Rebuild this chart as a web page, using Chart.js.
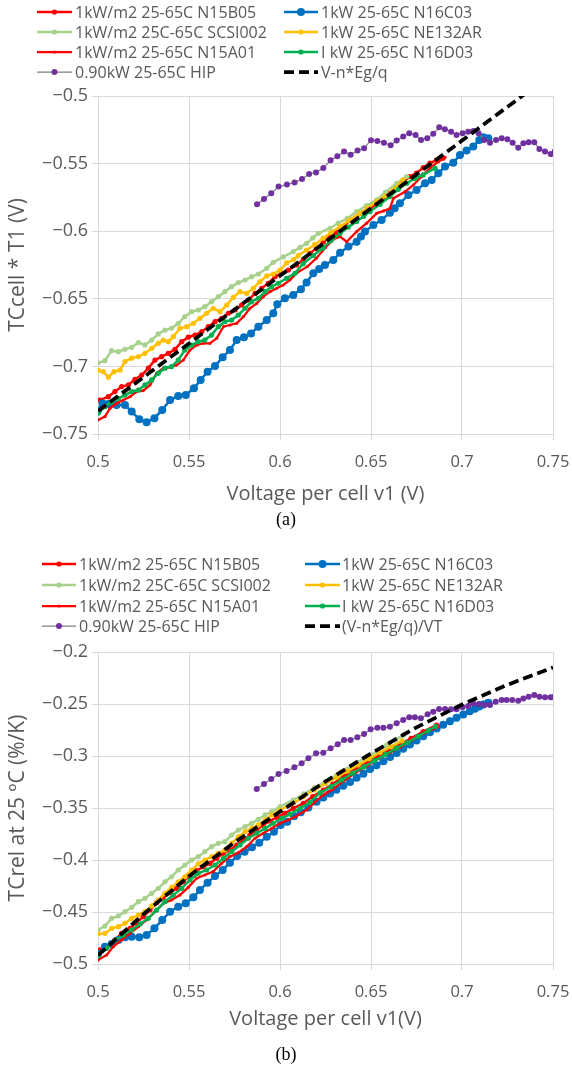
<!DOCTYPE html>
<html>
<head>
<meta charset="utf-8">
<script src="https://cdn.jsdelivr.net/npm/chart.js@4.4.1/dist/chart.umd.min.js"></script>
<style>
  body { margin: 0; background: #fff; width: 572px; height: 1077px; position: relative; overflow: hidden; }
  canvas { position: absolute; left: 0; }
  #chartA { top: 0; }
  #chartB { top: 540px; }
  .cap { position: absolute; left: 0; width: 572px; text-align: center; font: 18px "Liberation Serif", serif; color: #000; }
</style>
</head>
<body>
<canvas id="chartA" width="572" height="512"></canvas>
<div class="cap" style="top:509px">(a)</div>
<canvas id="chartB" width="572" height="497"></canvas>
<div class="cap" style="top:1044px">(b)</div>
<script>
// series names, in legend order (two columns, filled row by row)
var namesA = ["1kW/m2 25-65C N15B05", "1kW 25-65C N16C03", "1kW/m2 25C-65C SCSI002", "1kW 25-65C NE132AR",
              "1kW/m2 25-65C N15A01", "I kW 25-65C N16D03", "0.90kW 25-65C HIP", "V-n*Eg/q"];
var namesB = ["1kW/m2 25-65C N15B05", "1kW 25-65C N16C03", "1kW/m2 25C-65C SCSI002", "1kW 25-65C NE132AR",
              "1kW/m2 25-65C N15A01", "I kW 25-65C N16D03", "0.90kW 25-65C HIP", "(V-n*Eg/q)/VT"];

// ---- (a) TCcell * T1 (V) vs v1 ----
var a_N15B05 = [[0.501,-0.725],[0.5057,-0.7224],[0.5093,-0.7186],[0.513,-0.7149],[0.5167,-0.7137],[0.5203,-0.7095],[0.524,-0.7064],[0.5277,-0.7013],[0.5313,-0.6953],[0.535,-0.6928],[0.5386,-0.6903],[0.5423,-0.6873],[0.546,-0.6817],[0.5496,-0.6784],[0.5533,-0.6768],[0.557,-0.6743],[0.5606,-0.6706],[0.5643,-0.6669],[0.5679,-0.6644],[0.5716,-0.6607],[0.5753,-0.6583],[0.5789,-0.6546],[0.5826,-0.6509],[0.5863,-0.646],[0.5899,-0.6422],[0.5936,-0.6385],[0.5973,-0.6336],[0.6009,-0.6311],[0.6046,-0.6287],[0.6091,-0.625],[0.6128,-0.621],[0.6165,-0.6164],[0.62,-0.6125],[0.6238,-0.608],[0.6275,-0.604],[0.631,-0.601],[0.635,-0.597],[0.6385,-0.5917],[0.642,-0.5895],[0.6458,-0.586],[0.6495,-0.5831],[0.653,-0.58],[0.6568,-0.576],[0.6604,-0.572],[0.664,-0.568],[0.6677,-0.5635],[0.6714,-0.5596],[0.675,-0.557],[0.6787,-0.553],[0.6824,-0.5497],[0.686,-0.5475],[0.6896,-0.546]];
var a_N16C03 = [[0.5,-0.7327],[0.5025,-0.7275],[0.5057,-0.7278],[0.5102,-0.7285],[0.5148,-0.7285],[0.5185,-0.7334],[0.5227,-0.739],[0.5267,-0.7413],[0.531,-0.7383],[0.5353,-0.7322],[0.5396,-0.7249],[0.5441,-0.7219],[0.5482,-0.7212],[0.5527,-0.7162],[0.5564,-0.71],[0.5602,-0.704],[0.5643,-0.6997],[0.5685,-0.6932],[0.5725,-0.6879],[0.5762,-0.6805],[0.5802,-0.6785],[0.5841,-0.6756],[0.5881,-0.6706],[0.5927,-0.6657],[0.5963,-0.6607],[0.5985,-0.654],[0.6027,-0.6496],[0.6073,-0.6472],[0.6115,-0.643],[0.6146,-0.638],[0.6183,-0.6311],[0.6215,-0.628],[0.6247,-0.625],[0.6293,-0.6213],[0.633,-0.6159],[0.6376,-0.6114],[0.6421,-0.6078],[0.6445,-0.604],[0.6467,-0.6003],[0.6513,-0.5954],[0.6558,-0.5917],[0.6604,-0.5863],[0.663,-0.583],[0.6659,-0.5794],[0.6705,-0.5732],[0.675,-0.5695],[0.6797,-0.5646],[0.6833,-0.5621],[0.687,-0.5572],[0.6907,-0.5522],[0.6952,-0.5493],[0.6989,-0.5436],[0.7025,-0.5404],[0.7062,-0.5374],[0.7095,-0.5325],[0.7117,-0.5305],[0.7145,-0.5313]];
var a_SCSI002 = [[0.5,-0.6973],[0.5038,-0.6958],[0.5075,-0.6884],[0.5112,-0.6891],[0.5148,-0.6873],[0.5185,-0.6859],[0.5222,-0.6824],[0.5258,-0.6841],[0.5295,-0.6805],[0.5331,-0.676],[0.5368,-0.6731],[0.5404,-0.6718],[0.5441,-0.6681],[0.5477,-0.6632],[0.5514,-0.6595],[0.5551,-0.6583],[0.5587,-0.6558],[0.5624,-0.6521],[0.5661,-0.6484],[0.5697,-0.6447],[0.5734,-0.641],[0.5771,-0.638],[0.5808,-0.6361],[0.5844,-0.6336],[0.5881,-0.6317],[0.5927,-0.6274],[0.5963,-0.623],[0.6018,-0.619],[0.6073,-0.6151],[0.611,-0.612],[0.6146,-0.609],[0.618,-0.605],[0.621,-0.6016],[0.6275,-0.5978],[0.632,-0.594],[0.637,-0.5905],[0.6421,-0.5855],[0.6475,-0.581],[0.6531,-0.5769],[0.658,-0.571],[0.6641,-0.5646],[0.6696,-0.5596]];
var a_NE132AR = [[0.5,-0.7028],[0.5029,-0.7039],[0.5057,-0.708],[0.5088,-0.7039],[0.5121,-0.7027],[0.5148,-0.6964],[0.5185,-0.6939],[0.5222,-0.6927],[0.5258,-0.6903],[0.5295,-0.6866],[0.5331,-0.6829],[0.5359,-0.6805],[0.5386,-0.6817],[0.5414,-0.678],[0.545,-0.6718],[0.5487,-0.6706],[0.5524,-0.6681],[0.556,-0.6644],[0.5597,-0.6607],[0.5633,-0.657],[0.567,-0.6595],[0.5707,-0.6546],[0.5743,-0.649],[0.578,-0.6447],[0.5817,-0.646],[0.5853,-0.6422],[0.589,-0.6373],[0.5927,-0.6331],[0.5963,-0.6317],[0.6,-0.6287],[0.6036,-0.6235],[0.6075,-0.621],[0.61,-0.618],[0.6146,-0.6139],[0.619,-0.61],[0.6238,-0.6052],[0.628,-0.601],[0.633,-0.5966],[0.638,-0.592],[0.644,-0.5868],[0.648,-0.583],[0.6531,-0.5781],[0.658,-0.574],[0.6623,-0.5695],[0.6676,-0.5621]];
var a_N15A01 = [[0.5,-0.7396],[0.5038,-0.7371],[0.5066,-0.731],[0.5102,-0.7273],[0.5139,-0.7249],[0.5176,-0.7224],[0.5212,-0.7186],[0.5249,-0.7179],[0.5286,-0.7137],[0.5322,-0.7051],[0.5359,-0.7013],[0.5396,-0.7006],[0.5432,-0.699],[0.5469,-0.6953],[0.5505,-0.6879],[0.5542,-0.6842],[0.5579,-0.6829],[0.5615,-0.6829],[0.5652,-0.6792],[0.5689,-0.6706],[0.5725,-0.6694],[0.5762,-0.6681],[0.5799,-0.6632],[0.5835,-0.657],[0.5872,-0.6534],[0.5908,-0.6484],[0.5945,-0.6447],[0.5982,-0.6422],[0.6018,-0.6398],[0.6055,-0.636],[0.6091,-0.631],[0.615,-0.6262],[0.62,-0.62],[0.625,-0.612],[0.6293,-0.606],[0.633,-0.604],[0.6366,-0.6078],[0.6421,-0.6003],[0.6476,-0.5941],[0.6531,-0.5868],[0.657,-0.585],[0.6604,-0.5831],[0.6623,-0.5757],[0.6687,-0.5708],[0.6733,-0.5658],[0.6778,-0.5596],[0.6824,-0.5534],[0.687,-0.5486],[0.6907,-0.5453]];
var a_N16D03 = [[0.5,-0.7346],[0.5038,-0.7298],[0.5075,-0.7261],[0.5112,-0.7236],[0.5148,-0.7212],[0.5185,-0.7186],[0.5222,-0.7175],[0.5258,-0.7137],[0.5295,-0.71],[0.5331,-0.7051],[0.5368,-0.7013],[0.5404,-0.7001],[0.5441,-0.6953],[0.5477,-0.6879],[0.5514,-0.6842],[0.5551,-0.6817],[0.5587,-0.6805],[0.5624,-0.6768],[0.5661,-0.6706],[0.5697,-0.6669],[0.5734,-0.6657],[0.5771,-0.662],[0.5808,-0.657],[0.5844,-0.6521],[0.5881,-0.6496],[0.5918,-0.6447],[0.5954,-0.641],[0.5991,-0.6385],[0.6036,-0.6348],[0.6082,-0.6311],[0.6127,-0.624],[0.6183,-0.618],[0.6236,-0.6124],[0.628,-0.607],[0.633,-0.6016],[0.6375,-0.597],[0.6421,-0.5929],[0.646,-0.589],[0.6495,-0.5855],[0.655,-0.58],[0.6604,-0.5744],[0.665,-0.569],[0.6696,-0.5646],[0.674,-0.561],[0.6787,-0.5584],[0.6852,-0.5534]];
var a_HIP = [[0.5874,-0.58],[0.5912,-0.5762],[0.5952,-0.572],[0.5992,-0.567],[0.6038,-0.5655],[0.608,-0.5639],[0.6121,-0.5614],[0.616,-0.5577],[0.6198,-0.5565],[0.6238,-0.5533],[0.6278,-0.5476],[0.6315,-0.5446],[0.6352,-0.541],[0.6388,-0.5434],[0.6426,-0.5404],[0.6462,-0.5387],[0.65,-0.5327],[0.6535,-0.5332],[0.6571,-0.5345],[0.6608,-0.5364],[0.6641,-0.533],[0.6677,-0.53],[0.671,-0.5276],[0.6745,-0.5288],[0.6775,-0.5325],[0.6809,-0.5313],[0.6842,-0.528],[0.6875,-0.5232],[0.6906,-0.5246],[0.694,-0.5264],[0.697,-0.5288],[0.7003,-0.5276],[0.7034,-0.5264],[0.7062,-0.5259],[0.7091,-0.5276],[0.7122,-0.5325],[0.7154,-0.5345],[0.7187,-0.5325],[0.7218,-0.5313],[0.7249,-0.532],[0.7278,-0.5345],[0.7309,-0.5382],[0.7337,-0.535],[0.7366,-0.5342],[0.7397,-0.5342],[0.7425,-0.5392],[0.7456,-0.541],[0.7487,-0.5429],[0.751,-0.541]];
var a_model = [[0.5,-0.733],[0.55,-0.683],[0.6,-0.633],[0.65,-0.583],[0.7,-0.533],[0.75,-0.483]];

// ---- (b) TCrel at 25 oC (%/K) vs v1 ----
var b_N15B05 = [[0.5011,-0.4865],[0.5048,-0.4833],[0.5093,-0.4769],[0.513,-0.4705],[0.5176,-0.4657],[0.5212,-0.4603],[0.5249,-0.4545],[0.5286,-0.4481],[0.5322,-0.441],[0.5359,-0.4357],[0.5396,-0.4314],[0.5432,-0.4272],[0.5469,-0.4209],[0.5505,-0.4144],[0.5542,-0.4103],[0.5579,-0.4064],[0.5615,-0.4032],[0.5652,-0.3984],[0.5689,-0.3936],[0.5725,-0.3904],[0.5762,-0.3856],[0.5799,-0.3808],[0.5835,-0.376],[0.5872,-0.3712],[0.5908,-0.3663],[0.5945,-0.3625],[0.5982,-0.359],[0.6027,-0.3551],[0.6073,-0.3503],[0.6128,-0.3455],[0.618,-0.339],[0.6238,-0.3327],[0.629,-0.327],[0.635,-0.3195],[0.6421,-0.3115],[0.648,-0.306],[0.654,-0.3],[0.6604,-0.2942],[0.666,-0.289],[0.672,-0.283],[0.6787,-0.2765],[0.686,-0.2702]];
var b_N16C03 = [[0.5,-0.4904],[0.5038,-0.4833],[0.5075,-0.4808],[0.5112,-0.4769],[0.5148,-0.4743],[0.5185,-0.4737],[0.5227,-0.4743],[0.5267,-0.4721],[0.531,-0.4657],[0.5353,-0.4577],[0.5396,-0.4497],[0.5441,-0.4449],[0.5482,-0.4417],[0.5524,-0.4359],[0.556,-0.4288],[0.5602,-0.4218],[0.5643,-0.4154],[0.5685,-0.4096],[0.5725,-0.4026],[0.5765,-0.3962],[0.5806,-0.392],[0.5846,-0.3878],[0.5886,-0.3834],[0.5927,-0.3776],[0.5967,-0.3728],[0.6004,-0.3663],[0.604,-0.3632],[0.6077,-0.358],[0.6114,-0.354],[0.6156,-0.3495],[0.6201,-0.344],[0.6238,-0.34],[0.6275,-0.336],[0.631,-0.3325],[0.6348,-0.3285],[0.6385,-0.325],[0.6421,-0.321],[0.6458,-0.317],[0.6495,-0.3125],[0.653,-0.309],[0.6568,-0.305],[0.6605,-0.301],[0.6641,-0.297],[0.6677,-0.293],[0.6714,-0.289],[0.675,-0.285],[0.6787,-0.281],[0.6824,-0.2772],[0.6861,-0.2735],[0.6897,-0.27],[0.6934,-0.2665],[0.697,-0.2632],[0.7007,-0.26],[0.7043,-0.257],[0.7071,-0.2545],[0.7095,-0.2525],[0.7117,-0.2505],[0.7145,-0.2488]];
var b_SCSI002 = [[0.5,-0.4673],[0.5038,-0.4635],[0.5075,-0.4561],[0.5112,-0.4538],[0.5148,-0.4497],[0.5185,-0.4455],[0.5222,-0.4401],[0.5258,-0.4368],[0.5295,-0.432],[0.5331,-0.4272],[0.5368,-0.4209],[0.5404,-0.4161],[0.5441,-0.4096],[0.5477,-0.4048],[0.5514,-0.4],[0.5551,-0.3968],[0.5587,-0.392],[0.5624,-0.3872],[0.5661,-0.384],[0.5697,-0.3824],[0.5734,-0.376],[0.5771,-0.3712],[0.5808,-0.368],[0.5844,-0.3647],[0.5881,-0.3609],[0.5918,-0.3567],[0.5954,-0.3535],[0.6,-0.3487],[0.6073,-0.3423],[0.613,-0.3365],[0.619,-0.3305],[0.625,-0.3245],[0.631,-0.3185],[0.637,-0.3125],[0.6421,-0.3065],[0.648,-0.3005],[0.654,-0.2945],[0.6586,-0.2895],[0.6635,-0.2845],[0.668,-0.2795]];
var b_NE132AR = [[0.5,-0.4712],[0.5038,-0.4705],[0.5075,-0.4657],[0.5112,-0.4641],[0.5148,-0.4609],[0.5185,-0.4561],[0.5222,-0.4529],[0.5258,-0.4497],[0.5295,-0.4442],[0.5331,-0.4385],[0.5368,-0.432],[0.5404,-0.4263],[0.5441,-0.4209],[0.5477,-0.4161],[0.5514,-0.4096],[0.5551,-0.4038],[0.5587,-0.4],[0.5624,-0.3968],[0.5661,-0.3936],[0.5697,-0.3904],[0.5734,-0.384],[0.5771,-0.3776],[0.5808,-0.3728],[0.5844,-0.3696],[0.5881,-0.3663],[0.5918,-0.3615],[0.5954,-0.3567],[0.6,-0.3519],[0.6073,-0.3455],[0.613,-0.339],[0.619,-0.3325],[0.625,-0.3265],[0.631,-0.3205],[0.637,-0.3145],[0.643,-0.3085],[0.649,-0.3025],[0.655,-0.2965],[0.661,-0.291],[0.667,-0.2855]];
var b_N15A01 = [[0.5,-0.4962],[0.5048,-0.4913],[0.5084,-0.4833],[0.513,-0.4769],[0.5176,-0.4705],[0.5222,-0.4641],[0.5267,-0.4577],[0.5313,-0.4497],[0.5359,-0.4417],[0.5404,-0.4385],[0.545,-0.4337],[0.5496,-0.4263],[0.5542,-0.4176],[0.5587,-0.4144],[0.5633,-0.4112],[0.5679,-0.4032],[0.5725,-0.3968],[0.5771,-0.393],[0.5817,-0.3872],[0.5863,-0.3791],[0.5908,-0.3743],[0.5954,-0.3696],[0.6,-0.3647],[0.6046,-0.3615],[0.6091,-0.3577],[0.6146,-0.3519],[0.619,-0.3445],[0.6238,-0.3375],[0.629,-0.332],[0.635,-0.324],[0.6421,-0.3155],[0.648,-0.3095],[0.654,-0.3025],[0.6604,-0.2968],[0.666,-0.2915],[0.672,-0.285],[0.6787,-0.2785],[0.687,-0.2718]];
var b_N16D03 = [[0.5,-0.4923],[0.5048,-0.4849],[0.5093,-0.4769],[0.5139,-0.4721],[0.5185,-0.4673],[0.5231,-0.4615],[0.5276,-0.4561],[0.5322,-0.4481],[0.5368,-0.4401],[0.5414,-0.4337],[0.546,-0.4272],[0.5505,-0.4192],[0.5551,-0.4128],[0.5597,-0.4096],[0.5643,-0.4048],[0.5689,-0.3984],[0.5734,-0.392],[0.578,-0.3856],[0.5826,-0.3791],[0.5872,-0.3743],[0.5918,-0.3696],[0.5963,-0.3647],[0.6009,-0.3599],[0.6055,-0.3558],[0.611,-0.3503],[0.6165,-0.3445],[0.622,-0.3355],[0.628,-0.3295],[0.634,-0.323],[0.64,-0.3165],[0.646,-0.3105],[0.652,-0.3045],[0.658,-0.2985],[0.664,-0.2925],[0.67,-0.287],[0.676,-0.281],[0.6815,-0.2755],[0.6855,-0.2715]];
var b_HIP = [[0.5872,-0.3317],[0.5912,-0.3269],[0.5952,-0.3221],[0.5992,-0.3173],[0.6036,-0.3144],[0.6079,-0.3109],[0.6119,-0.307],[0.6156,-0.3022],[0.6198,-0.2974],[0.6238,-0.2968],[0.6278,-0.2926],[0.6317,-0.2888],[0.6352,-0.2846],[0.6388,-0.2846],[0.6425,-0.282],[0.6462,-0.2788],[0.6498,-0.2743],[0.6535,-0.2728],[0.6568,-0.2728],[0.6604,-0.2718],[0.6641,-0.2685],[0.6677,-0.2654],[0.671,-0.2628],[0.6741,-0.2628],[0.6774,-0.2638],[0.6811,-0.2599],[0.6842,-0.2574],[0.6874,-0.2548],[0.6907,-0.2548],[0.694,-0.2551],[0.697,-0.2551],[0.7003,-0.2532],[0.7034,-0.2519],[0.7062,-0.2494],[0.7093,-0.25],[0.7123,-0.251],[0.7154,-0.251],[0.7185,-0.2478],[0.7218,-0.2462],[0.7245,-0.2462],[0.7276,-0.2462],[0.7309,-0.2468],[0.7337,-0.2446],[0.7366,-0.243],[0.7397,-0.2413],[0.7425,-0.243],[0.7456,-0.2436],[0.7487,-0.2436],[0.7505,-0.243]];
var b_model = [[0.5,-0.4917],[0.525,-0.452],[0.55,-0.4155],[0.575,-0.383],[0.6,-0.3535],[0.625,-0.3245],[0.65,-0.2975],[0.675,-0.2725],[0.7,-0.2505],[0.725,-0.2315],[0.75,-0.215]];

Chart.defaults.font.family = "'Open Sans', sans-serif";
Chart.defaults.color = "#595959";

// line + marker look of each series (same order as the names)
var looks = [
  {color: "#ff0000", marker: "#ff0000", width: 2.5, r: 2.6},
  {color: "#0070c0", marker: "#0070c0", width: 2.5, r: 4},
  {color: "#a9d18e", marker: "#a9d18e", width: 2.5, r: 2.6},
  {color: "#ffc000", marker: "#ffc000", width: 2.5, r: 2.6},
  {color: "#ff0000", marker: "#ff0000", width: 2.25, r: 1.6},
  {color: "#00b050", marker: "#00b050", width: 2.5, r: 2.6},
  {color: "#7f7f7f", marker: "#7030a0", width: 1.25, r: 3},
  {color: "#000000", marker: "#000000", width: 3.75, r: 0, dash: [10, 5]}
];

function buildSets(names, series) {
  return series.map(function(pts, i) {
    var lk = looks[i];
    return {
      label: names[i],
      data: pts,
      showLine: true,
      borderColor: lk.color,
      borderWidth: lk.width,
      borderDash: lk.dash || [],
      pointRadius: lk.r,
      pointHoverRadius: lk.r,
      pointBackgroundColor: lk.marker,
      pointBorderWidth: 0,
      order: series.length - i   // first series at the bottom, like the workbook
    };
  });
}

//legend drawn as a fixed two-column table above the plot
var tableLegend = {
  id: "tableLegend",
  afterDraw: function(chart, args, opts) {
    var ctx = chart.ctx;
    ctx.save();
    ctx.font = opts.font;
    ctx.textBaseline = "middle";
    chart.data.datasets.forEach(function(ds, i) {
      var col = opts.cols[i % 2];
      var y = opts.rows[Math.floor(i / 2)];
      ctx.strokeStyle = ds.borderColor;
      ctx.lineWidth = ds.borderWidth;
      ctx.setLineDash(ds.borderDash);
      ctx.beginPath();
      ctx.moveTo(col.x0, y);
      ctx.lineTo(col.x1, y);
      ctx.stroke();
      ctx.setLineDash([]);
      if (ds.pointRadius > 0) {
        ctx.fillStyle = ds.pointBackgroundColor;
        ctx.beginPath();
        ctx.arc((col.x0 + col.x1) / 2, y, ds.pointRadius, 0, Math.PI * 2);
        ctx.fill();
      }
      ctx.fillStyle = "#595959";
      ctx.fillText(ds.label, col.tx, y + 1);
    });
    ctx.restore();
  }
};

// tick text, with a real minus sign on the value axis
function fmtX(v) { return String(+v.toFixed(2)); }
function fmtY(v) { return String(+v.toFixed(2)).replace("-", "\u2212"); }

function makeChart(id, sets, yMin, yMax, yTitle, xTitle, lay) {
  var grid = {color: "#d9d9d9", lineWidth: 1, tickLength: 6};
  return new Chart(document.getElementById(id), {
    type: "scatter",
    data: {datasets: sets},
    plugins: [tableLegend],
    options: {
      responsive: false,
      animation: false,
      events: [],
      layout: {padding: {top: lay.top, right: 19, left: 0, bottom: 0}},
      plugins: {
        legend: {display: false},
        tooltip: {enabled: false},
        tableLegend: {font: "16px 'Open Sans'", cols: lay.cols, rows: lay.rows}
      },
      scales: {
        x: {
          type: "linear", min: 0.5, max: 0.75,
          grid: grid,
          border: {color: "#d9d9d9"},
          ticks: {stepSize: 0.05, padding: 12, font: {size: 16.5}, callback: fmtX},
          title: {display: true, text: xTitle, font: {size: 20}, padding: 6},
          afterFit: function(s) { s.height = lay.xh; s.paddingLeft = 0; s.paddingRight = 0; }
        },
        y: {
          type: "linear", min: yMin, max: yMax,
          grid: grid,
          border: {color: "#d9d9d9"},
          ticks: {stepSize: 0.05, padding: 4, font: {size: 18}, callback: fmtY},
          title: {display: true, text: yTitle, font: {size: 21}, padding: 5},
          afterFit: function(s) { s.width = 98; }
        }
      }
    }
  });
}

var chartA = makeChart("chartA",
  buildSets(namesA, [a_N15B05, a_N16C03, a_SCSI002, a_NE132AR, a_N15A01, a_N16D03, a_HIP, a_model]),
  -0.75, -0.5, "TCcell * T1 (V)", "Voltage per cell v1 (V)",
  {top: 96, xh: 78, rows: [12, 32, 52, 72],
   cols: [{x0: 37, x1: 72, tx: 75}, {x0: 284, x1: 318, tx: 321}]});

var chartB = makeChart("chartB",
  buildSets(namesB, [b_N15B05, b_N16C03, b_SCSI002, b_NE132AR, b_N15A01, b_N16D03, b_HIP, b_model]),
  -0.5, -0.2, "TCrel at 25 \u00baC (%/K)", "Voltage per cell v1(V)",
  {top: 112, xh: 73, rows: [24, 45, 66, 86],
   cols: [{x0: 42, x1: 76, tx: 79}, {x0: 305, x1: 340, tx: 342}]});
</script>
</body>
</html>
